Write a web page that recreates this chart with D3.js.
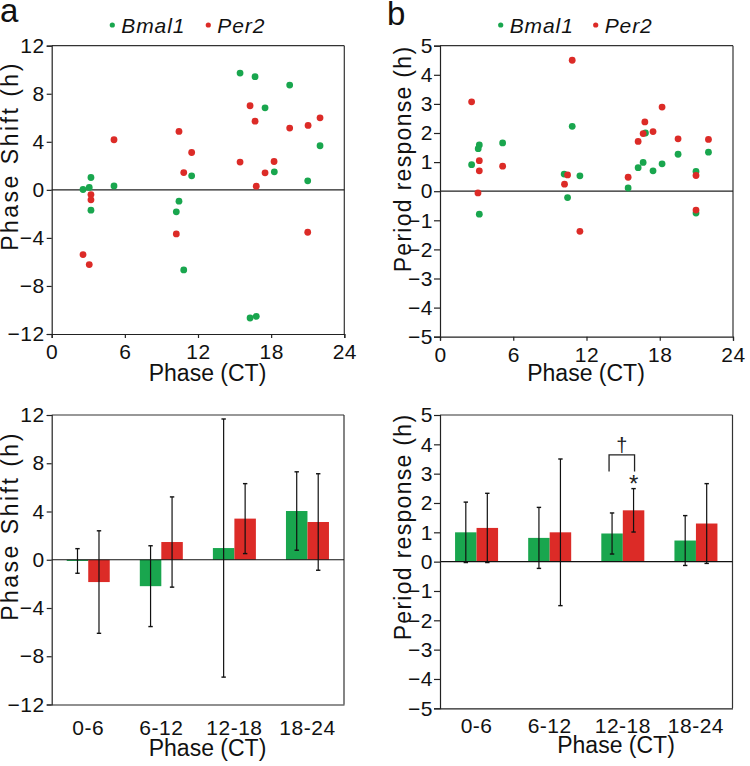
<!DOCTYPE html>
<html><head><meta charset="utf-8">
<script src="https://cdn.jsdelivr.net/npm/d3@7"></script>
<style>
body{margin:0;background:#fff;}
svg{font-family:"Liberation Sans",Arial,sans-serif;}
</style></head><body>
<svg id="c" width="750" height="766"></svg>
<script>
// ---------- data ----------
const phaseTicks = [0, 6, 12, 18, 24];
const shiftTicks = [-12, -8, -4, 0, 4, 8, 12];
const periodTicks = [-5, -4, -3, -2, -1, 0, 1, 2, 3, 4, 5];
const categories = ["0-6", "6-12", "12-18", "18-24"];
const seriesNames = ["Bmal1", "Per2"];

// panel a top: phase shift scatter
const bmal1ShiftCT = [15.45, 16.68, 19.52, 17.5, 22.01, 18.26, 21.0, 11.48, 3.22, 3.08, 2.57, 5.11, 3.22, 10.44, 10.22, 10.83, 16.27, 16.78];
const bmal1Shift   = [9.72, 9.42, 8.72, 6.83, 3.67, 1.5, 0.75, 1.17, 1.03, 0.2, 0.03, 0.33, -1.69, -0.94, -1.83, -6.67, -10.67, -10.53];
const per2ShiftCT  = [16.27, 16.68, 19.52, 21.03, 22.01, 15.45, 18.24, 17.5, 16.78, 10.44, 11.48, 10.83, 5.11, 3.22, 3.22, 10.22, 21.0, 2.57, 3.08];
const per2Shift    = [7.0, 5.72, 5.14, 5.36, 6.0, 2.31, 2.36, 1.42, 0.31, 4.86, 3.11, 1.44, 4.17, -0.39, -0.83, -3.67, -3.53, -5.39, -6.22];

// panel b top: period response scatter
const bmal1PeriodCT = [2.59, 3.22, 3.13, 3.22, 5.13, 10.17, 10.83, 10.45, 11.46, 15.41, 16.23, 16.64, 17.45, 18.19, 19.5, 20.97, 20.97, 21.99, 16.83];
const bmal1Period   = [0.91, 1.59, 1.46, -0.79, 1.66, 0.59, 2.23, -0.22, 0.53, 0.11, 0.81, 0.99, 0.70, 0.94, 1.27, 0.68, -0.75, 1.34, 2.0];
const per2PeriodCT  = [2.59, 3.22, 3.22, 3.11, 5.13, 10.83, 10.45, 10.2, 11.46, 15.41, 16.23, 16.64, 16.78, 17.45, 18.19, 19.5, 20.97, 20.97, 21.99];
const per2Period    = [3.07, 1.05, 0.70, -0.06, 0.86, 4.50, 0.56, 0.24, -1.38, 0.48, 1.71, 1.98, 2.38, 2.05, 2.89, 1.80, 0.54, -0.65, 1.78];

// panel a bottom: mean phase shift by phase bin
const bmal1ShiftMean = [-0.1, -2.19, 0.97, 4.04];
const bmal1ShiftSD   = [1.02, 3.35, 10.7, 3.25];
const per2ShiftMean  = [-1.85, 1.47, 3.41, 3.13];
const per2ShiftSD    = [4.25, 3.74, 2.9, 4.0];

// panel b bottom: mean period response by phase bin
const bmal1PeriodMean = [1.0, 0.81, 0.96, 0.72];
const bmal1PeriodSD   = [1.03, 1.04, 0.70, 0.85];
const per2PeriodMean  = [1.15, 1.0, 1.75, 1.30];
const per2PeriodSD    = [1.18, 2.5, 0.74, 1.36];

// ---------- style ----------
const GREEN = "#19a64e", RED = "#dc2b27";
const FONT = "Liberation Sans, Arial, sans-serif";
const TICK_FS = 21, TITLE_FS = 23;
const svg = d3.select("#c");

function frame(g, x0, x1, y0, y1) {
  g.append("line").attr("x1", x0).attr("x2", x1).attr("y1", y0).attr("y2", y0).attr("stroke", "#333").attr("stroke-width", 1.2);
  g.append("line").attr("x1", x1).attr("x2", x1).attr("y1", y0).attr("y2", y1).attr("stroke", "#333").attr("stroke-width", 1.2);
}
function styleAxis(sel) {
  sel.attr("font-family", FONT);
  sel.selectAll("path,line").attr("stroke", "#222").attr("stroke-width", 1.2);
  sel.selectAll("text").attr("font-size", TICK_FS).attr("fill", "#111").attr("font-family", FONT).attr("letter-spacing", 0.5);
}
function yTitle(text, x, y, ls) {
  svg.append("text").attr("transform", `translate(${x},${y}) rotate(-90)`).attr("text-anchor", "middle")
    .attr("font-size", TITLE_FS).attr("letter-spacing", ls).attr("fill", "#111").text(text);
}
function xTitle(text, x, y) {
  svg.append("text").attr("x", x).attr("y", y).attr("text-anchor", "middle")
    .attr("font-size", TITLE_FS).attr("fill", "#111").text(text);
}
function legend(xg, xr, y) {
  const items = [[xg, GREEN, seriesNames[0]], [xr, RED, seriesNames[1]]];
  items.forEach(([x, c, t]) => {
    svg.append("circle").attr("cx", x).attr("cy", y - 8).attr("r", 2.6).attr("fill", c);
    svg.append("text").attr("x", x + 9).attr("y", y).attr("font-size", 21).attr("font-style", "italic")
      .attr("letter-spacing", 0.9).attr("fill", "#111").text(t);
  });
}

// ---------- scatter panels ----------
function scatter(x0, x1, y0, y1, yDom, yTicks, gX, gY, rX, rY, tickSize, tickPad) {
  const x = d3.scaleLinear().domain([0, 24]).range([x0, x1]);
  const y = d3.scaleLinear().domain(yDom).range([y1, y0]);
  const g = svg.append("g");
  frame(g, x0, x1, y0, y1);
  g.append("line").attr("x1", x0).attr("x2", x1).attr("y1", y(0)).attr("y2", y(0)).attr("stroke", "#222").attr("stroke-width", 1.2);
  const ax = g.append("g").attr("transform", `translate(0,${y1})`)
    .call(d3.axisBottom(x).tickValues(phaseTicks).tickSize(4).tickPadding(6).tickFormat(d3.format("d")));
  styleAxis(ax);
  const ay = g.append("g").attr("transform", `translate(${x0},0)`)
    .call(d3.axisLeft(y).tickValues(yTicks).tickSize(tickSize).tickPadding(tickPad).tickFormat(d3.format("d")));
  styleAxis(ay);
  const pts = [];
  gX.forEach((v, i) => pts.push([v, gY[i], GREEN]));
  rX.forEach((v, i) => pts.push([v, rY[i], RED]));
  g.selectAll("circle.pt").data(pts).join("circle").attr("class", "pt")
    .attr("cx", d => x(d[0])).attr("cy", d => y(d[1])).attr("r", 3.4).attr("fill", d => d[2]);
}

// ---------- bar panels ----------
function bars(x0, x1, y0, y1, yDom, yTicks, gM, gS, rM, rS, tickSize, tickPad, labPad) {
  const x = d3.scaleBand().domain(categories).range([x0, x1]).paddingInner(0).paddingOuter(0);
  const sub = d3.scaleBand().domain(seriesNames).range([-21.5, 21.5]);
  const y = d3.scaleLinear().domain(yDom).range([y1, y0]);
  const g = svg.append("g");
  frame(g, x0, x1, y0, y1);
  const data = [];
  categories.forEach((c, i) => {
    data.push({c, s: seriesNames[0], m: gM[i], sd: gS[i], col: GREEN});
    data.push({c, s: seriesNames[1], m: rM[i], sd: rS[i], col: RED});
  });
  g.selectAll("rect.bar").data(data).join("rect").attr("class", "bar")
    .attr("x", d => x(d.c) + x.bandwidth() / 2 + sub(d.s))
    .attr("width", sub.bandwidth())
    .attr("y", d => Math.min(y(d.m), y(0)))
    .attr("height", d => Math.max(Math.abs(y(d.m) - y(0)), 1))
    .attr("fill", d => d.col);
  g.append("line").attr("x1", x0).attr("x2", x1).attr("y1", y(0)).attr("y2", y(0)).attr("stroke", "#111").attr("stroke-width", 1.2);
  const eb = g.selectAll("g.eb").data(data).join("g").attr("class", "eb")
    .attr("transform", d => `translate(${x(d.c) + x.bandwidth() / 2 + sub(d.s) + sub.bandwidth() / 2},0)`);
  eb.append("line").attr("y1", d => y(d.m + d.sd)).attr("y2", d => y(d.m - d.sd)).attr("stroke", "#111").attr("stroke-width", 1.2);
  eb.append("line").attr("x1", -2.2).attr("x2", 2.2).attr("y1", d => y(d.m + d.sd)).attr("y2", d => y(d.m + d.sd)).attr("stroke", "#111").attr("stroke-width", 1.4);
  eb.append("line").attr("x1", -2.2).attr("x2", 2.2).attr("y1", d => y(d.m - d.sd)).attr("y2", d => y(d.m - d.sd)).attr("stroke", "#111").attr("stroke-width", 1.4);
  const ax = g.append("g").attr("transform", `translate(0,${y1})`)
    .call(d3.axisBottom(x).tickSize(0).tickPadding(labPad));
  styleAxis(ax);
  const ay = g.append("g").attr("transform", `translate(${x0},0)`)
    .call(d3.axisLeft(y).tickValues(yTicks).tickSize(tickSize).tickPadding(tickPad).tickFormat(d3.format("d")));
  styleAxis(ay);
  return {x, y, sub};
}

// panel letters
svg.append("text").attr("x", 0).attr("y", 22).attr("font-size", 33).attr("fill", "#111").text("a");
svg.append("text").attr("x", 387).attr("y", 25).attr("font-size", 33).attr("fill", "#111").text("b");

legend(112.3, 208.3, 33);
legend(500.7, 595.7, 33);

scatter(51.7, 344.3, 45.7, 334, [-12, 12], shiftTicks, bmal1ShiftCT, bmal1Shift, per2ShiftCT, per2Shift, 5, 2);
scatter(440, 733, 45.7, 336.7, [-5, 5], periodTicks, bmal1PeriodCT, bmal1Period, per2PeriodCT, per2Period, 6, 1);

bars(51.7, 344, 415, 704.5, [-12, 12], shiftTicks, bmal1ShiftMean, bmal1ShiftSD, per2ShiftMean, per2ShiftSD, 5, 2, 16);
const bb = bars(440, 732.5, 415, 708.3, [-5, 5], periodTicks, bmal1PeriodMean, bmal1PeriodSD, per2PeriodMean, per2PeriodSD, 6, 1, 10);

// significance marks on 12-18 bin
const cx = bb.x("12-18") + bb.x.bandwidth() / 2;
const gC = cx + bb.sub("Bmal1") + bb.sub.bandwidth() / 2;
const rC = cx + bb.sub("Per2") + bb.sub.bandwidth() / 2;
svg.append("path").attr("d", `M${gC - 3},${bb.y(3.07)}V${bb.y(3.64)}H${rC + 1}V${bb.y(3.07)}`)
  .attr("fill", "none").attr("stroke", "#222").attr("stroke-width", 1.3);
svg.append("text").attr("x", (gC + rC) / 2 - 1).attr("y", bb.y(3.64) - 3).attr("text-anchor", "middle").attr("font-size", 20).attr("fill", "#222").text("†");
svg.append("text").attr("x", rC).attr("y", bb.y(2.47) + 2.5).attr("text-anchor", "middle").attr("font-size", 24).attr("fill", "#222").text("*");

// axis titles
yTitle("Phase Shift (h)", 18, 156, 2.5);
yTitle("Phase Shift (h)", 18, 526, 2.5);
yTitle("Period response (h)", 411, 159, 1.3);
yTitle("Period response (h)", 411, 527, 1.3);
xTitle("Phase (CT)", 207.5, 381);
xTitle("Phase (CT)", 586, 381);
xTitle("Phase (CT)", 207.5, 756);
xTitle("Phase (CT)", 616, 753);
</script></body></html>
